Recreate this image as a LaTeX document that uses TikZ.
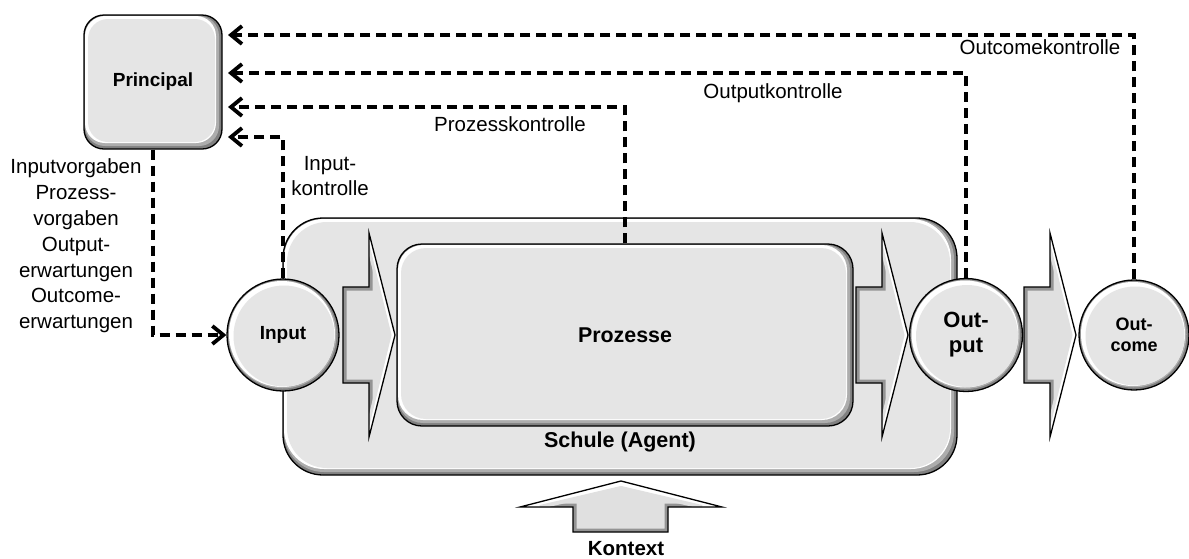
\documentclass[tikz,border=0pt]{standalone}
\usepackage{fontspec}
\setmainfont{Liberation Sans}
\usetikzlibrary{arrows.meta}
\tikzset{
  bevelbox/.style={draw=black, line width=1.3pt, fill=black!50, rounded corners=#1, inner sep=0pt,
    path picture={
      \fill[black!32, rounded corners=#1] ([shift={(1pt,3pt)}]path picture bounding box.south west) rectangle ([shift={(-3pt,-1pt)}]path picture bounding box.north east);
      \fill[white, rounded corners=#1] ([shift={(1pt,6pt)}]path picture bounding box.south west) rectangle ([shift={(-6pt,-1pt)}]path picture bounding box.north east);
      \fill[black!10, rounded corners=#1] ([shift={(4pt,7pt)}]path picture bounding box.south west) rectangle ([shift={(-7pt,-4pt)}]path picture bounding box.north east);
    }},
  bevelcirc/.style={circle, draw=black, line width=1.3pt, fill=black!50, minimum size={2*#1pt}, inner sep=0pt,
    path picture={
      \fill[black!32] ([shift={(-0.5pt,0.5pt)}]path picture bounding box.center) circle[radius={#1pt-2pt}];
      \fill[white] ([shift={(-1pt,1pt)}]path picture bounding box.center) circle[radius={#1pt-3pt}];
      \fill[black!10] ([shift={(1pt,-1pt)}]path picture bounding box.center) circle[radius={#1pt-5.5pt}];
    }},
  ctrl/.style={line width=3.8pt, dash pattern=on 10pt off 6pt, -{Straight Barb[length=11pt,width=18pt]}},
  regtxt/.style={inner sep=0pt, font=\fontsize{20.5}{25.8}\selectfont, align=center},
  boldtxt/.style={inner sep=0pt, font=\fontsize{#1}{#1}\selectfont\bfseries, align=center}
}
\newcommand\mychev[1]{%
  \begin{scope}[shift={(#1,0)}]
    \fill[black!12] (0,287) -- (26,287) -- (26,233) -- (52,335) -- (26,437) -- (26,383) -- (0,383) -- cycle;
    \begin{scope}
      \clip (0,287) -- (26,287) -- (26,233) -- (52,335) -- (26,437) -- (26,383) -- (0,383) -- cycle;
      \draw[black!42, line width=7pt] (0,287) -- (26,287) -- (26,233) -- (52,335) -- (26,437) -- (26,383) -- (0,383) -- cycle;
      \draw[white, line width=9pt] (26,233) -- (52,335) -- (26,437);
      \draw[black!12, line width=3pt] ([xshift=-1pt]26,245) -- (47,335) -- ([xshift=-1pt]26,425);
    \end{scope}
    \draw[line width=1.3pt, line join=miter] (0,287) -- (26,287) -- (26,233) -- (52,335) -- (26,437) -- (26,383) -- (0,383) -- cycle;
  \end{scope}}
\begin{document}
\begin{tikzpicture}[x=1pt,y=-1pt]
\useasboundingbox (0,0) rectangle (1189,558);

% boxes
\node[bevelbox=40pt, minimum width=674pt, minimum height=257pt] (schule) at (620,346.5) {};
\node[bevelbox=25pt, minimum width=456pt, minimum height=182pt, boldtxt=21.4] (prozesse) at (625,335) {Prozesse};
\node[boldtxt=21.5] (schulelabel) at (620,442) {Schule (Agent)};

% chevrons
\mychev{343}
\mychev{856}
\mychev{1024}

% circles
\node[bevelcirc=56, boldtxt=19] (input) at (283,335) {Input};
\node[bevelcirc=56.5, font=\fontsize{22}{25}\selectfont\bfseries, align=center] (output) at (966,335) {Out-\\put};
\node[bevelcirc=55, font=\fontsize{18}{20.5}\selectfont\bfseries, align=center] (outcome) at (1134,335) {Out-\\come};

% principal
\node[bevelbox=20pt, minimum width=138pt, minimum height=134pt, boldtxt=19, outer xsep=6pt, outer ysep=0.65pt] (principal) at (153,82) {Principal};

% Kontext arrow
\fill[black!12] (520,507) -- (621,481) -- (722,507) -- (668,507) -- (668,532) -- (573,532) -- (573,507) -- cycle;
\begin{scope}
  \clip (520,507) -- (621,481) -- (722,507) -- (668,507) -- (668,532) -- (573,532) -- (573,507) -- cycle;
  \draw[black!42, line width=7pt] (520,507) -- (621,481) -- (722,507) -- (668,507) -- (668,532) -- (573,532) -- (573,507) -- cycle;
  \draw[white, line width=10pt] (520,507) -- (621,481) -- (722,507);
  \draw[black!12, line width=4pt] (540,507) -- (621,488) -- (702,507);
\end{scope}
\draw[line width=1.3pt, line join=miter] (520,507) -- (621,481) -- (722,507) -- (668,507) -- (668,532) -- (573,532) -- (573,507) -- cycle;
\node[boldtxt=20.5, anchor=base] (kontext) at (626,555.5) {Kontext};

% texts
\node[regtxt] (vorgaben) at (76,246) {Inputvorgaben\\Prozess-\\vorgaben\\Output-\\erwartungen\\Outcome-\\erwartungen};
\node[regtxt] (ikl) at (330,176) {Input-\\kontrolle};
\node[regtxt] (pkl) at (510,124) {Prozesskontrolle};
\node[regtxt] (okl) at (773,93) {Outputkontrolle};
\node[regtxt] (ockl) at (1040,47) {Outcomekontrolle};

% connectors
\coordinate (c1) at (283,137);
\coordinate (c2) at (625,107);
\coordinate (c3) at (966,73);
\coordinate (c4) at (1134,35);
\draw[ctrl] (principal.south) -- (principal.south |- input.west) -- (input.west);
\draw[ctrl] (input.north) -- (c1) -- (c1 -| principal.east);
\draw[ctrl] (prozesse.north) -- (c2) -- (c2 -| principal.east);
\draw[ctrl] (output.north) -- (c3) -- (c3 -| principal.east);
\draw[ctrl] (outcome.north) -- (c4) -- (c4 -| principal.east);
\end{tikzpicture}
\end{document}
